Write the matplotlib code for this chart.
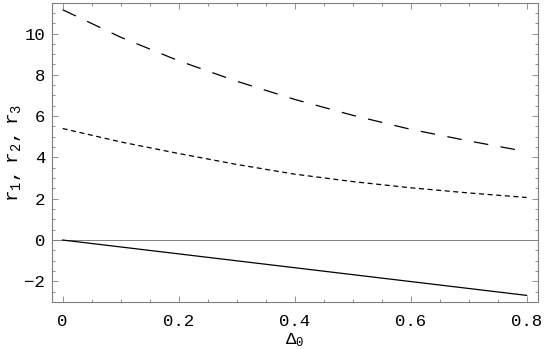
import matplotlib
matplotlib.use("Agg")
import matplotlib.pyplot as plt
from matplotlib.ticker import MultipleLocator, FixedLocator

plt.rcParams['font.family'] = ['Liberation Mono', 'DejaVu Sans']
plt.rcParams['mathtext.fontset'] = 'custom'
plt.rcParams['mathtext.rm'] = 'Liberation Mono'
plt.rcParams['mathtext.it'] = 'Liberation Mono'
plt.rcParams['lines.scale_dashes'] = False

# Data
delta0 = [0.0, 0.1, 0.2, 0.3, 0.4, 0.5, 0.6, 0.7, 0.8]
r1 = [11.15, 9.82, 8.68, 7.69, 6.81, 6.04, 5.36, 4.80, 4.28]
r2 = [5.40, 4.75, 4.19, 3.66, 3.19, 2.83, 2.53, 2.28, 2.06]
r3 = [0.0, -0.335, -0.67, -1.005, -1.34, -1.675, -2.01, -2.345, -2.68]
xticks = [0, 0.2, 0.4, 0.6, 0.8]
xticklabels = ['0', '0.2', '0.4', '0.6', '0.8']
yticks = [-2, 0, 2, 4, 6, 8, 10]
yticklabels = ['\u22122', '0', '2', '4', '6', '8', '10']

fig = plt.figure(figsize=(5.45, 3.49), dpi=100)
ax = fig.add_axes([0.0954, 0.1347, 0.987 - 0.0954, 0.991 - 0.1347])

ax.axhline(0, color='#808080', lw=0.7, zorder=1)
ax.plot(delta0, r1, color='black', lw=0.9, dashes=(10.5, 9.0))
ax.plot(delta0, r2, color='black', lw=0.9, dashes=(3.6, 2.6))
ax.plot(delta0, r3, color='black', lw=0.9)

ax.set_xlim(-0.0184, 0.8195)
ax.set_ylim(-3.0, 11.47)

ax.xaxis.set_major_locator(FixedLocator(xticks))
ax.set_xticklabels(xticklabels)
ax.xaxis.set_minor_locator(MultipleLocator(0.05))
ax.yaxis.set_major_locator(FixedLocator(yticks))
ax.set_yticklabels(yticklabels)
ax.yaxis.set_minor_locator(MultipleLocator(0.5))

for s in ax.spines.values():
    s.set_color('#808080')
    s.set_linewidth(0.8)

ax.tick_params(which='both', direction='in', top=True, right=True,
               color='#808080', width=0.6, labelsize=12.5, labelcolor='black')
ax.tick_params(which='major', length=4.5)
ax.tick_params(which='minor', length=2.5)
ax.tick_params(axis='x', which='major', pad=9)
ax.tick_params(axis='y', which='major', pad=5)

ax.set_xlabel('$\\mathrm{\u0394_0}$', fontsize=12.5, labelpad=1)
ax.set_ylabel('$\\mathrm{r_1,\\ r_2,\\ r_3}$', fontsize=14, labelpad=1)

fig.savefig('out.png', dpi=100)
